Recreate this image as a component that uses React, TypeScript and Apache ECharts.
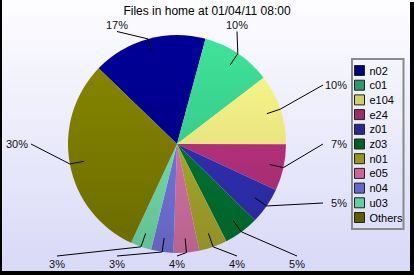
import { useEffect, useRef } from "react";
import * as echarts from "echarts";

// Chart data
const TITLE = "Files in home at 01/04/11 08:00";
const names = ["n02", "c01", "e104", "e24", "z01", "z03", "n01", "e05", "n04", "u03", "Others"];
const values = [17.0, 10.4, 10.4, 6.9, 5.4, 5.2, 4.2, 3.8, 3.3, 3.1, 30.3];

// Slice fill (mid tone) and legend key colours
const sliceColors = ["#000088", "#38cc8a", "#ebe67e", "#b03078", "#2e2eae", "#007030", "#a4a42c", "#d070a0", "#7272d8", "#70d8a8", "#7a7a00"];
const legendColors = ["#000080", "#2a9c6a", "#d2cf62", "#9c2c6a", "#282890", "#006024", "#96961e", "#cc6699", "#6666cc", "#5fd19f", "#5e5e00"];

const W = 414;
const H = 275;
const CX = 177;
const CY = 144;
const R = 109;
const START_ANGLE = 136; // echarts convention: degrees counter-clockwise from 3 o'clock
const FONT = "'Liberation Sans', Arial, sans-serif";

function scaleColor(hex: string, f: number): string {
  const n = parseInt(hex.slice(1), 16);
  const c = [(n >> 16) & 255, (n >> 8) & 255, n & 255].map((v) => Math.max(0, Math.min(255, Math.round(v * f))));
  return `rgb(${c[0]},${c[1]},${c[2]})`;
}

type LabelPlace = {
  x: number;
  y: number;
  align: "left" | "center" | "right";
  points: number[][];
};

// Guide-line label placement: each label snaps to a slot on one side of a box
// around the pie; slots on a side are spaced evenly and kept in angular order.
function computeLabelPlaces(): LabelPlace[] {
  const total = values.reduce((a, b) => a + b, 0);
  const startCw = 90 - START_ANGLE; // clockwise from 12 o'clock
  const mids: number[] = [];
  let acc = startCw;
  values.forEach((v) => {
    const span = (v / total) * 360;
    mids.push(acc + span / 2);
    acc += span;
  });

  const BOX = 120;
  const SLOT_X = 60;
  const SLOT_Y = 59;
  type Item = { i: number; side: string; nat: number };
  const items: Item[] = mids.map((m, i) => {
    const a = ((m % 360) + 360) % 360;
    const rad = (a * Math.PI) / 180;
    const dx = Math.sin(rad);
    const dy = -Math.cos(rad);
    let side = "top";
    if (a >= 45 && a < 135) side = "right";
    else if (a >= 135 && a < 225) side = "bottom";
    else if (a >= 225 && a < 315) side = "left";
    const nat =
      side === "top" || side === "bottom"
        ? ((dx / Math.abs(dy)) * BOX) / SLOT_X
        : ((dy / Math.abs(dx)) * BOX) / SLOT_Y;
    return { i, side, nat };
  });

  const slotOf: number[] = new Array(values.length).fill(0);
  ["top", "right", "bottom", "left"].forEach((side) => {
    const group = items.filter((it) => it.side === side).sort((a, b) => a.nat - b.nat);
    let best: number[] = [];
    let bestCost = Infinity;
    const pick = (idx: number, min: number, chosen: number[], cost: number) => {
      if (cost >= bestCost) return;
      if (idx === group.length) {
        best = chosen.slice();
        bestCost = cost;
        return;
      }
      for (let k = min; k <= 3; k++) {
        chosen.push(k);
        pick(idx + 1, k + 1, chosen, cost + Math.abs(k - group[idx].nat));
        chosen.pop();
      }
    };
    pick(0, -3, [], 0);
    group.forEach((it, j) => {
      slotOf[it.i] = best[j];
    });
  });

  return items.map((it) => {
    const rad = (mids[it.i] * Math.PI) / 180;
    const dx = Math.sin(rad);
    const dy = -Math.cos(rad);
    const inner = [CX + dx * R * 0.87, CY + dy * R * 0.87];
    const edge = [CX + dx * R, CY + dy * R];
    const k = slotOf[it.i];
    if (it.side === "top") {
      const sx = CX + k * SLOT_X;
      return { x: sx, y: 24.5, align: "center", points: [inner, edge, [sx, 31.5]] };
    }
    if (it.side === "bottom") {
      const sx = CX + k * SLOT_X;
      return { x: sx, y: 263.5, align: "center", points: [inner, edge, [sx, 256]] };
    }
    const sy = CY + k * SLOT_Y;
    if (it.side === "right") {
      return { x: 347, y: sy, align: "right", points: [inner, edge, [323, sy]] };
    }
    return { x: 28, y: sy, align: "right", points: [inner, edge, [31, sy]] };
  });
}

export default function App() {
  const ref = useRef<HTMLDivElement>(null);

  useEffect(() => {
    document.body.style.margin = "0";
    if (!ref.current) return;
    const chart = echarts.init(ref.current, null, { renderer: "svg" });
    const total = values.reduce((a, b) => a + b, 0);
    const places = computeLabelPlaces();

    const sliceData = names.map((name, i) => ({
      name,
      value: values[i],
      itemStyle: {
        color: {
          type: "linear",
          x: 0,
          y: CY - R,
          x2: 0,
          y2: CY + R,
          global: true,
          colorStops: [
            { offset: 0, color: scaleColor(sliceColors[i], 1.12) },
            { offset: 1, color: scaleColor(sliceColors[i], 0.88) },
          ],
        },
      },
    }));
    const labelData = names.map((name, i) => ({ name, value: values[i] }));

    const pieBase = {
      type: "pie",
      center: [CX, CY],
      radius: R,
      startAngle: START_ANGLE,
      clockwise: true,
      avoidLabelOverlap: false,
      silent: true,
      emphasis: { disabled: true },
    };

    chart.setOption({
      animation: false,
      graphic: [
        {
          type: "rect",
          z: -10,
          shape: { x: 0, y: 0, width: W, height: H },
          style: {
            fill: {
              type: "linear",
              x: 0,
              y: 0,
              x2: 0,
              y2: 1,
              colorStops: [
                { offset: 0, color: "#fdfdff" },
                { offset: 1, color: "#d8d8f8" },
              ],
            },
          },
          silent: true,
        },
        { type: "rect", z: 100, shape: { x: 0, y: 0, width: 2, height: H }, style: { fill: "#000" }, silent: true },
        { type: "rect", z: 100, shape: { x: W - 4, y: 2, width: 4, height: H - 2 }, style: { fill: "#000" }, silent: true },
        { type: "rect", z: 100, shape: { x: 0, y: H - 4, width: W, height: 4 }, style: { fill: "#000" }, silent: true },
      ],
      title: {
        text: TITLE,
        left: "center",
        top: 5,
        padding: 0,
        textStyle: { fontFamily: FONT, fontSize: 12, fontWeight: "normal", color: "#000" },
      },
      legend: {
        orient: "vertical",
        left: 352,
        top: 59,
        padding: [5, 1, 5, 2],
        itemWidth: 10,
        itemHeight: 10,
        itemGap: 1.7,
        icon: "rect",
        selectedMode: false,
        borderColor: "#8a8a8a",
        borderWidth: 2,
        textStyle: { fontFamily: FONT, fontSize: 11, lineHeight: 13, color: "#000" },
        data: names.map((name, i) => ({
          name,
          itemStyle: { color: legendColors[i], borderColor: "#222", borderWidth: 1 },
        })),
      },
      series: [
        {
          ...pieBase,
          name: "slices",
          z: 2,
          data: sliceData,
          label: { show: false },
          labelLine: { show: false },
        },
        {
          // transparent overlay carrying the percentage labels and guide lines
          ...pieBase,
          name: "labels",
          z: 3,
          data: labelData,
          itemStyle: { color: "rgba(0,0,0,0)" },
          label: {
            show: true,
            position: "outer",
            fontFamily: FONT,
            fontSize: 11,
            color: "#111",
            formatter: (p: any) => `${Math.round((p.value / total) * 100)}%`,
          },
          labelLine: {
            show: true,
            length: 10,
            length2: 10,
            lineStyle: { color: "#000", width: 1 },
          },
          labelLayout: (params: any) => {
            const pl = places[params.dataIndex];
            return {
              x: pl.x,
              y: pl.y,
              align: pl.align,
              verticalAlign: "middle",
              labelLinePoints: pl.points,
            };
          },
        },
      ],
    });

    return () => chart.dispose();
  }, []);

  return <div ref={ref} style={{ width: W, height: H }} />;
}
